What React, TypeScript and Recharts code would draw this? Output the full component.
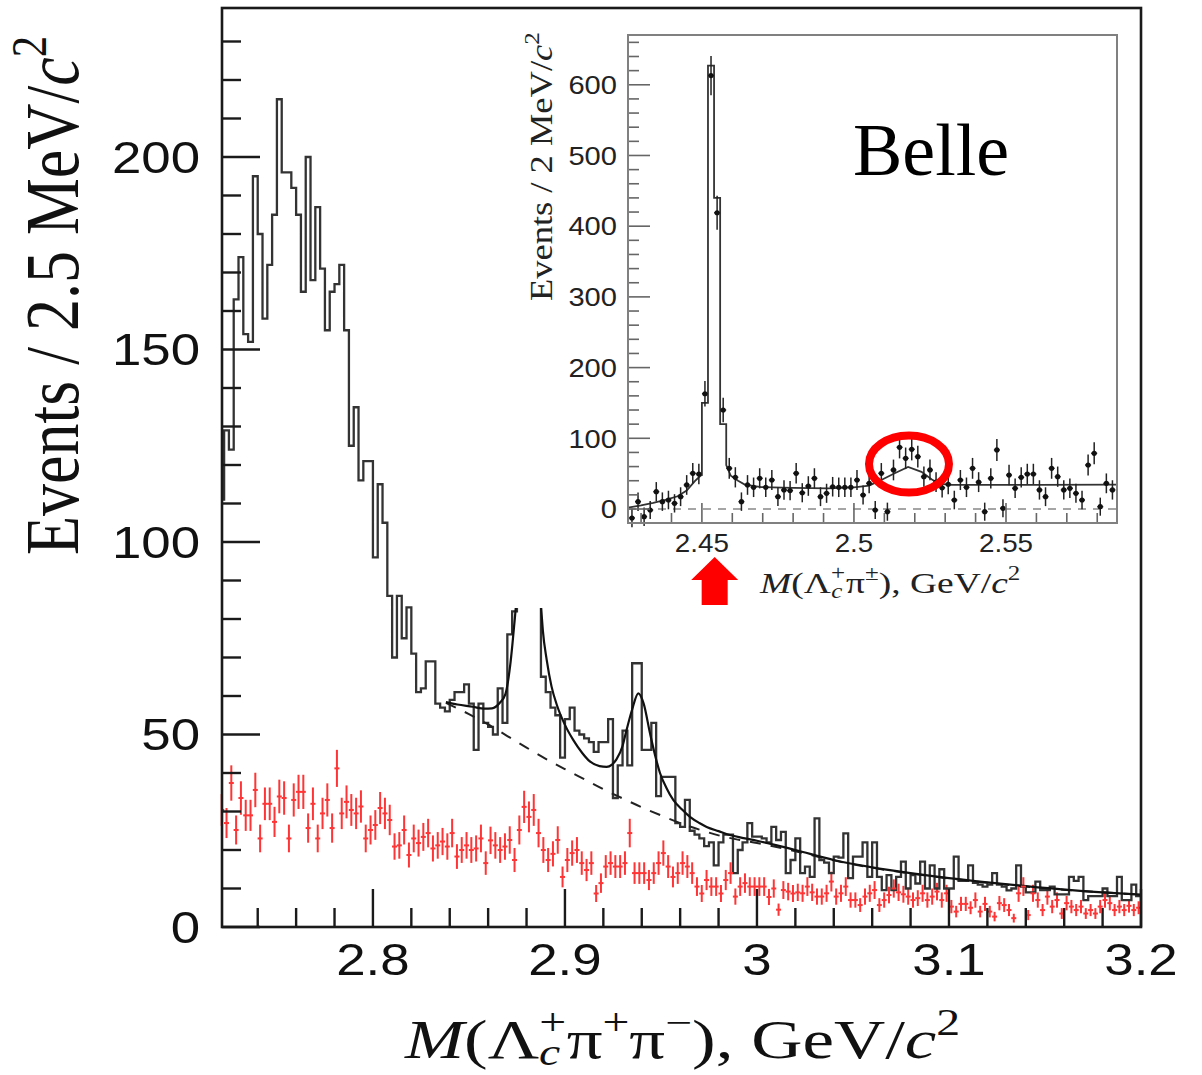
import React from "react";
import {
  ComposedChart,
  Line,
  Scatter,
  XAxis,
  YAxis,
  ErrorBar,
  ReferenceLine,
  ReferenceDot,
} from "recharts";

// ---------------- main plot data ----------------
const BIN_START = 2.72;
const BIN_WIDTH = 0.0025;

// events / 2.5 MeV, M(Lc+ pi+ pi-)
const COUNTS = [
  111, 129, 124, 163, 174, 154, 152, 195, 180, 158,
  172, 185, 215, 196, 196, 192, 185, 165, 200, 168,
  187, 171, 155, 165, 167, 172, 155, 125, 135, 116,
  121, 121, 96, 115, 105, 86, 70, 86, 75, 83,
  71, 61, 62, 69, 69, 58, 57, 56, 59, 61,
  61, 63, 58, 46, 58, 53, 52, 50, 62, 53,
  76, 82, 120, 160, 180, 150, 100, 65, 61, 57,
  55, 44, 54, 57, 51, 50, 49, 48, 45.5, 48,
  48, 54, 33.5, 42, 51, 42, 68.5, 68.5, 46, 46,
  53, 34, 39, 39, 39, 27, 26, 33, 25, 24,
  23, 21, 22, 16, 22, 24, 24, 14, 20, 22,
  27, 23.5, 23.5, 23, 22, 26, 22.6, 24.7, 14, 17.4,
  23, 14, 15.7, 13, 28.2, 17.4, 16.7, 14, 18.3, 18,
  24.3, 12.7, 18.3, 18.3, 22, 13, 22, 13, 9.6, 13.5,
  9.6, 13, 17, 10, 13.5, 11.3, 17, 10, 16, 10,
  15, 10, 10, 18.3, 12, 12, 16, 11.5, 11, 10.5,
  11, 14, 11, 10.5, 9.5, 10, 16, 10.5, 9, 9,
  11.8, 9.6, 9.6, 10.5, 8.5, 8.5, 8.5, 13, 12, 13,
  7, 8, 8, 8, 10, 8, 8, 13, 7, 7,
  11, 8,
];

// red points (sideband), same binning
const WRONG_SIGN = [
  30.4, 27, 37.4, 25.2, 33.5, 29, 29, 35.6, 23, 32,
  32, 27.3, 33.9, 33.5, 23, 33, 35.1, 35.1, 25.7, 32,
  23, 29.5, 33, 25.7, 41.2, 29.5, 32.5, 30.4, 29.5, 31.3,
  23, 25.2, 26.5, 30.9, 29.5, 27.8, 20.9, 21.2, 25.2, 18.7,
  23, 21.8, 23.4, 24.4, 20.4, 21.2, 22.2, 20.9, 24.4, 18.3,
  20, 21.2, 20, 20.4, 23, 16.6, 22.5, 21.2,
  20, 20.9, 22.6, 17.4, 25.2, 31.2, 28.6, 30.4, 24.4, 20,
  17.4, 19, 22.6, 13, 17.4, 19.2, 20, 16.6, 14.8, 16.6,
  8.7, 11.4, 15.7, 16.6, 15.7, 15.7, 16.6, 24.4, 14, 14,
  14, 12.2, 14, 16.6, 19.2, 15.7, 13, 14, 16.6, 15.7,
  14, 10.5, 8.7, 12.2, 10.5, 10.5, 8.7, 12.2, 14, 7.9,
  10.5, 11.4, 10.5, 10.5, 10.5, 10.5,
  7.8, 10, 4.5, 9.6, 9.2, 8.7, 9, 8.75, 10.5, 9,
  7.9, 7.9, 8.75, 11.8, 7.9, 8.75, 10.5, 7, 7, 5.7,
  7.9, 8.75, 9.6, 5.7, 7, 8.3, 10, 9, 8.5, 7.9,
  7, 7.5, 8.75, 7, 7.9, 9.2, 7, 8.75, 5.3, 4,
  6,
  6, 5, 7, 4, 6, 4, 2.7, 6.2, 5.7, 4.4,
  2.3, 8.75, 10.5, 3.1, 8.75, 7, 4.4, 7.9, 5.3, 7,
  3.5, 6.2, 5.3, 4.4, 5.3, 3.5, 4.4, 3.5, 5.3, 7,
  6.2, 4.4, 5.3, 4.4, 5.5, 4.4, 5,
];

// total fit (solid)
const FIT_CURVE: [number, number][] = [
  [2.838, 58.4], [2.844, 57.8], [2.852, 57.2], [2.858, 56.7], [2.862, 56.8],
  [2.866, 58.2], [2.869, 60.5], [2.8715, 68], [2.8735, 78], [2.8755, 90],
  [2.878, 115], [2.88, 150], [2.8815, 165], [2.883, 150], [2.885, 115],
  [2.887, 88], [2.8885, 77], [2.8905, 69.4], [2.893, 62.5], [2.8957, 57.8],
  [2.9, 52.5], [2.9043, 48.6], [2.909, 45.2], [2.913, 43], [2.918, 41.8],
  [2.9217, 41.6], [2.9245, 42.2], [2.9269, 43.6], [2.93, 47], [2.9321, 51.2],
  [2.935, 56.5], [2.9382, 60.7], [2.941, 58], [2.9443, 50.3], [2.947, 44.5],
  [2.9495, 40], [2.953, 36], [2.9564, 33], [2.961, 30.5], [2.9651, 28.6],
  [2.97, 27], [2.9738, 26], [2.98, 24.9], [2.9859, 23.9], [2.993, 23.1],
  [3.0, 22.4], [3.02, 20.0], [3.04, 17.4], [3.06, 15.5], [3.08, 14.0],
  [3.1, 12.7], [3.12, 11.6], [3.14, 10.6], [3.16, 9.7], [3.18, 9.0], [3.2, 8.4],
];

// background (dashed)
const BG_CURVE: [number, number][] = [
  [2.838, 58.2], [2.85, 55.3], [2.86, 52.6], [2.87, 49.6], [2.88, 46.6],
  [2.89, 43.7], [2.9, 41.0], [2.91, 38.4], [2.92, 35.8], [2.93, 33.4],
  [2.94, 31.1], [2.95, 29.0], [2.96, 27.0], [2.97, 25.3], [2.98, 23.8],
  [2.99, 22.7], [3.0, 21.8], [3.02, 19.7], [3.04, 17.3], [3.06, 15.4],
  [3.08, 13.9], [3.1, 12.6], [3.12, 11.5], [3.14, 10.5], [3.16, 9.7],
  [3.18, 9.0], [3.2, 8.4],
];

const X_TICKS = [
  2.74, 2.76, 2.78, 2.8, 2.82, 2.84, 2.86, 2.88, 2.9, 2.92, 2.94, 2.96,
  2.98, 3.0, 3.02, 3.04, 3.06, 3.08, 3.1, 3.12, 3.14, 3.16, 3.18, 3.2,
];
const Y_TICKS = [
  0, 10, 20, 30, 40, 50, 60, 70, 80, 90, 100, 110, 120, 130, 140, 150,
  160, 170, 180, 190, 200, 210, 220, 230,
];

// ---------------- inset data ----------------
const INSET_BIN_START = 2.426;
const INSET_BIN_WIDTH = 0.002;
const INSET_COUNTS = [
  -12.7, 10.4, -10.8, -1.4, 24.5, 10.4, 12.7, 8, 17.4, 34,
  50.5, 49.5, 163, 613, 419, 140, 57.5, 44.8, 10.4, 34,
  30.7, 43.4, 30.7, 41, 17.4, 26.9, 26, 50.5, 23, 32.5,
  43.4, 17.4, 22.2, 31.5, 30.7, 30.7, 30.7, 41, 19.8, 36.3,
  -1.4, 50.5, -3.8, 55.2, 87.3, 71.7, 84.4, 74, 45.7, 55.2,
  38, 30, 35, 12.7, 41, 30.7, 57.5, 38, -3.8, 43.4,
  83.5, 1, 48, 29.3, 44.8, 49.5, 49.5, 27, 17.4, 57.5,
  45.7, 27, 29.3, 22.2, 12.7, 62.2, 78.8, 3.3, 36.3, 27,
];
const INSET_FIT: [number, number][] = [
  [2.4257, 2], [2.43, 5], [2.434, 8.5], [2.438, 13], [2.442, 18],
  [2.445, 26], [2.4476, 39], [2.4495, 47], [2.45, 48], [2.45, 150],
  [2.452, 150], [2.452, 627], [2.454, 627], [2.454, 440], [2.456, 440],
  [2.456, 120], [2.458, 120], [2.458, 62], [2.4595, 47], [2.4619, 40],
  [2.4641, 34.5], [2.4695, 31], [2.48, 29.8], [2.4915, 29.3], [2.5, 30.5],
  [2.505, 33], [2.509, 41], [2.5134, 50.5], [2.5178, 59.6], [2.5222, 52.5],
  [2.5255, 42], [2.5277, 36.5], [2.531, 34.2], [2.54, 34], [2.56, 34],
  [2.5865, 34.5],
];
const INSET_X_TICKS = [
  2.43, 2.44, 2.45, 2.46, 2.47, 2.48, 2.49, 2.5, 2.51, 2.52, 2.53, 2.54,
  2.55, 2.56, 2.57, 2.58,
];
const INSET_Y_TICKS = [
  0, 20, 40, 60, 80, 100, 120, 140, 160, 180, 200, 220, 240, 260, 280, 300,
  320, 340, 360, 380, 400, 420, 440, 460, 480, 500, 520, 540, 560, 580, 600,
  620, 640, 660,
];

// ---------------- layout constants ----------------
const PAGE_W = 1202;
const PAGE_H = 1075;
const PLOT_L = 222;
const PLOT_T = 8;
const PLOT_R = 1141;
const PLOT_B = 927;

const INSET_BOX = { left: 510, top: 12, width: 627, height: 596 };
const IN_L = 118; // inset plot left (inside box)
const IN_T = 23;
const IN_R = 607;
const IN_B = 511;

const SANS = "'Liberation Sans', Arial, Helvetica, sans-serif";
const SERIF = "'Liberation Serif', 'Times New Roman', Times, serif";
const RED = "#ff3434";

// ---------------- derived series ----------------
const histData = [
  ...COUNTS.map((c, i) => ({ x: BIN_START + i * BIN_WIDTH, y: c })),
  { x: BIN_START + COUNTS.length * BIN_WIDTH, y: COUNTS[COUNTS.length - 1] },
];
const redData = WRONG_SIGN.map((v, i) => ({
  x: BIN_START + (i + 0.5) * BIN_WIDTH,
  y: v,
  err: 0.75 * Math.sqrt(Math.max(v, 0)),
}));
const fitData = FIT_CURVE.map(([x, y]) => ({ x, y }));
const bgData = BG_CURVE.map(([x, y]) => ({ x, y }));

const insetPts = INSET_COUNTS.map((v, i) => ({
  x: INSET_BIN_START + (i + 0.5) * INSET_BIN_WIDTH,
  y: v,
  err: Math.sqrt(Math.abs(v) + 160),
}));
const insetFitData = INSET_FIT.map(([x, y]) => ({ x, y }));

// ---------------- tick renderers ----------------
function MainXTick(props: any) {
  const { x, payload } = props;
  const v = payload.value as number;
  const major = Math.abs(v * 10 - Math.round(v * 10)) < 1e-6;
  const len = major ? 38 : 19;
  const label = Math.abs(v - 3) < 1e-9 ? "3" : v.toFixed(1);
  return (
    <g>
      <line x1={x} x2={x} y1={PLOT_B} y2={PLOT_B - len} stroke="#1a1a1a" strokeWidth={2.4} />
      {major && (
        <text
          transform={`translate(${x},975) scale(1.2,1)`}
          textAnchor="middle"
          fontFamily={SANS}
          fontSize={44}
          fill="#111"
        >
          {label}
        </text>
      )}
    </g>
  );
}

function MainYTick(props: any) {
  const { y, payload } = props;
  const v = payload.value as number;
  const major = v % 50 === 0;
  const len = major ? 38 : 19;
  return (
    <g>
      <line x1={PLOT_L} x2={PLOT_L + len} y1={y} y2={y} stroke="#1a1a1a" strokeWidth={2.4} />
      {major && (
        <text
          transform={`translate(200,${y + 15.7}) scale(1.2,1)`}
          textAnchor="end"
          fontFamily={SANS}
          fontSize={44}
          fill="#111"
        >
          {String(v)}
        </text>
      )}
    </g>
  );
}

function InsetXTick(props: any) {
  const { x, payload } = props;
  const v = payload.value as number;
  const major = Math.abs(v * 20 - Math.round(v * 20)) < 1e-6;
  const len = major ? 20 : 10;
  return (
    <g>
      <line x1={x} x2={x} y1={IN_B} y2={IN_B - len} stroke="#666" strokeWidth={1.6} />
      {major && (
        <text
          transform={`translate(${x},540) scale(1.07,1)`}
          textAnchor="middle"
          fontFamily={SANS}
          fontSize={26}
          fill="#222"
        >
          {String(v)}
        </text>
      )}
    </g>
  );
}

function InsetYTick(props: any) {
  const { y, payload } = props;
  const v = payload.value as number;
  const major = v % 100 === 0;
  const len = major ? 22 : 11;
  return (
    <g>
      <line x1={IN_L} x2={IN_L + len} y1={y} y2={y} stroke="#666" strokeWidth={1.6} />
      {major && (
        <text
          transform={`translate(107,${y + 9.3}) scale(1.12,1)`}
          textAnchor="end"
          fontFamily={SANS}
          fontSize={26}
          fill="#222"
        >
          {String(v)}
        </text>
      )}
    </g>
  );
}

// ---------------- marker shapes ----------------
function RedMarker(props: any) {
  const { cx, cy } = props;
  if (cx == null || cy == null) return <g />;
  return <line x1={cx - 2.5} x2={cx + 2.5} y1={cy} y2={cy} stroke={RED} strokeWidth={2} />;
}

function InsetMarker(props: any) {
  const { cx, cy } = props;
  if (cx == null || cy == null) return <g />;
  return (
    <g>
      <line x1={cx - 3} x2={cx + 3} y1={cy} y2={cy} stroke="#222" strokeWidth={1.4} />
      <circle cx={cx} cy={cy} r={2.6} fill="#111" />
    </g>
  );
}

function EllipseMark(props: any) {
  const { cx, cy } = props;
  return <ellipse cx={cx} cy={cy} rx={40} ry={28.5} fill="none" stroke="#ff0000" strokeWidth={8} />;
}

function ArrowMark(props: any) {
  const { cx, cy } = props;
  const top = cy + 34;
  const neck = cy + 57;
  const bottom = cy + 82;
  const pts = [
    [cx, top],
    [cx + 23.5, neck],
    [cx + 13, neck],
    [cx + 13, bottom],
    [cx - 13, bottom],
    [cx - 13, neck],
    [cx - 23.5, neck],
  ]
    .map((p) => p.join(","))
    .join(" ");
  return <polygon points={pts} fill="#ff0000" />;
}

// ---------------- component ----------------
export default function App() {
  return (
    <div
      style={{
        position: "absolute",
        left: 0,
        top: 0,
        width: PAGE_W,
        height: PAGE_H,
        background: "#fff",
        overflow: "hidden",
      }}
    >
      {/* main plot */}
      <div style={{ position: "absolute", left: 0, top: 0 }}>
        <ComposedChart
          width={PAGE_W}
          height={PAGE_H}
          margin={{ top: PLOT_T, right: PAGE_W - PLOT_R, bottom: PAGE_H - PLOT_B - 60, left: PLOT_L - 100 }}
        >
          <XAxis
            type="number"
            dataKey="x"
            domain={[2.7214, 3.2]}
            allowDataOverflow
            ticks={X_TICKS}
            interval={0}
            tick={<MainXTick />}
            tickLine={false}
            axisLine={false}
            height={60}
          />
          <YAxis
            type="number"
            domain={[0, 238.7]}
            allowDataOverflow
            ticks={Y_TICKS}
            interval={0}
            tick={<MainYTick />}
            tickLine={false}
            axisLine={false}
            width={100}
          />
          <Scatter
            data={redData}
            dataKey="y"
            fill={RED}
            shape={<RedMarker />}
            isAnimationActive={false}
          >
            <ErrorBar dataKey="err" direction="y" width={0} stroke={RED} strokeWidth={2} isAnimationActive={false} />
          </Scatter>
          <Line
            data={histData}
            dataKey="y"
            type="stepAfter"
            stroke="#333"
            strokeWidth={2.3}
            dot={false}
            isAnimationActive={false}
          />
          <Line
            data={bgData}
            dataKey="y"
            type="monotone"
            stroke="#222"
            strokeWidth={2}
            strokeDasharray="11 10"
            dot={false}
            isAnimationActive={false}
          />
          <Line
            data={fitData}
            dataKey="y"
            type="monotone"
            stroke="#111"
            strokeWidth={2.2}
            dot={false}
            isAnimationActive={false}
          />
        </ComposedChart>
      </div>

      {/* inset */}
      <div
        style={{
          position: "absolute",
          left: INSET_BOX.left,
          top: INSET_BOX.top,
          width: INSET_BOX.width,
          height: INSET_BOX.height,
          background: "#fff",
        }}
      >
        <ComposedChart
          width={INSET_BOX.width}
          height={INSET_BOX.height}
          margin={{ top: IN_T, right: INSET_BOX.width - IN_R, bottom: INSET_BOX.height - IN_B - 40, left: IN_L - 60 }}
        >
          <XAxis
            type="number"
            dataKey="x"
            domain={[2.4257, 2.5865]}
            allowDataOverflow
            ticks={INSET_X_TICKS}
            interval={0}
            tick={<InsetXTick />}
            tickLine={false}
            axisLine={false}
            height={40}
          />
          <YAxis
            type="number"
            domain={[-19.8, 670.4]}
            allowDataOverflow
            ticks={INSET_Y_TICKS}
            interval={0}
            tick={<InsetYTick />}
            tickLine={false}
            axisLine={false}
            width={60}
          />
          <ReferenceLine y={0} stroke="#888" strokeWidth={1.6} strokeDasharray="8 7" />
          <Line
            data={insetFitData}
            dataKey="y"
            type="linear"
            stroke="#333"
            strokeWidth={1.8}
            dot={false}
            isAnimationActive={false}
          />
          <Scatter
            data={insetPts}
            dataKey="y"
            fill="#111"
            shape={<InsetMarker />}
            isAnimationActive={false}
          >
            <ErrorBar dataKey="err" direction="y" width={0} stroke="#222" strokeWidth={1.5} isAnimationActive={false} />
          </Scatter>
          <ReferenceDot x={2.5181} y={63.6} r={0} ifOverflow="visible" shape={<EllipseMark />} />
          <ReferenceDot x={2.4542} y={-19.8} r={0} ifOverflow="visible" shape={<ArrowMark />} />
        </ComposedChart>
        <svg
          width={INSET_BOX.width}
          height={INSET_BOX.height}
          style={{ position: "absolute", left: 0, top: 0, pointerEvents: "none" }}
        >
          <rect x={IN_L} y={IN_T} width={IN_R - IN_L} height={IN_B - IN_T} fill="none" stroke="#808080" strokeWidth={2} />
          <text x={343} y={163} fontFamily={SERIF} fontSize={74} fill="#000">
            Belle
          </text>
          <text transform="translate(42,289) rotate(-90) scale(1.14,1)" fontFamily={SERIF} fontSize={32} fill="#222">
            {"Events / 2 MeV/"}
            <tspan fontStyle="italic">c</tspan>
            <tspan fontSize={22} dy={-13}>2</tspan>
          </text>
          <text transform="translate(250,581) scale(1.25,1)" fontFamily={SERIF} fontSize={30} fill="#222">
            <tspan fontStyle="italic">M</tspan>
            <tspan>(Λ</tspan>
            <tspan fontSize={20} dy={-13}>+</tspan>
            <tspan fontSize={20} fontStyle="italic" dx={-11} dy={18}>c</tspan>
            <tspan dx={3} dy={-5}>π</tspan>
            <tspan fontSize={20} dy={-13}>±</tspan>
            <tspan dy={13}>), GeV/</tspan>
            <tspan fontStyle="italic">c</tspan>
            <tspan fontSize={20} dy={-13}>2</tspan>
          </text>
        </svg>
      </div>

      {/* frame + axis titles */}
      <svg
        width={PAGE_W}
        height={PAGE_H}
        style={{ position: "absolute", left: 0, top: 0, pointerEvents: "none" }}
      >
        <rect x={PLOT_L} y={PLOT_T} width={PLOT_R - PLOT_L} height={PLOT_B - PLOT_T} fill="none" stroke="#1a1a1a" strokeWidth={2.6} />
        <text transform="translate(405,1058) scale(1.29,1)" fontFamily={SERIF} fontSize={55} fill="#111">
          <tspan fontStyle="italic">M</tspan>
          <tspan>(Λ</tspan>
          <tspan fontSize={37} dy={-23}>+</tspan>
          <tspan fontSize={37} fontStyle="italic" dx={-21} dy={30}>c</tspan>
          <tspan dx={5} dy={-7}>π</tspan>
          <tspan fontSize={37} dy={-23}>+</tspan>
          <tspan dy={23}>π</tspan>
          <tspan fontSize={37} dy={-23}>−</tspan>
          <tspan dy={23}>), GeV/</tspan>
          <tspan fontStyle="italic">c</tspan>
          <tspan fontSize={37} dy={-23}>2</tspan>
        </text>
        <text transform="translate(78,555) scale(1.2,1) rotate(-90)" fontFamily={SERIF} fontSize={64} fill="#111">
          {"Events / 2.5 MeV/"}
          <tspan fontStyle="italic">c</tspan>
          <tspan fontSize={43} dy={-27}>2</tspan>
        </text>
      </svg>
    </div>
  );
}
